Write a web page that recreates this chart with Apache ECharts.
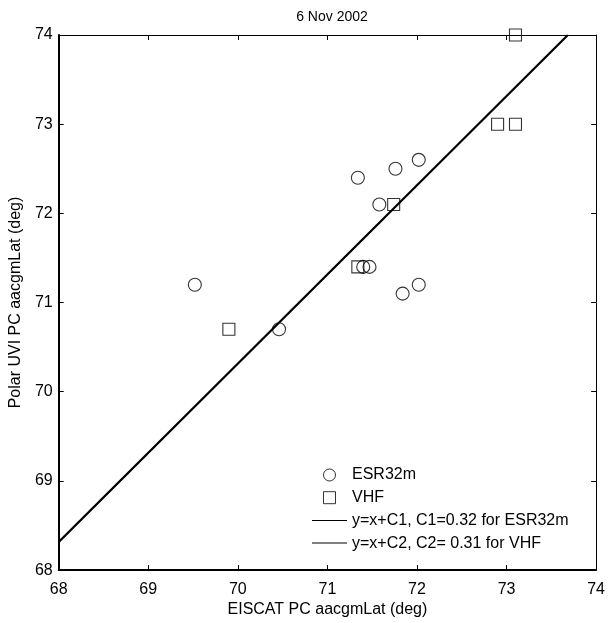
<!DOCTYPE html>
<html>
<head>
<meta charset="utf-8">
<script src="https://cdn.jsdelivr.net/npm/echarts@6/dist/echarts.min.js"></script>
<style>
html,body{margin:0;padding:0;background:#fff;}
#chart{width:608px;height:623px;}
</style>
</head>
<body>
<div id="chart"></div>
<script>
// Data
var titleText = '6 Nov 2002';
var xAxisTitle = 'EISCAT PC aacgmLat (deg)';
var yAxisTitle = 'Polar UVI PC aacgmLat (deg)';
var axisMin = 68, axisMax = 74, axisStep = 1;

var esrName = 'ESR32m';
var esrX = [69.52, 70.46, 71.34, 71.58, 71.76, 72.02, 71.40, 71.47, 71.84, 72.02];
var esrY = [71.20, 70.70, 72.40, 72.10, 72.50, 72.60, 71.40, 71.40, 71.10, 71.20];

var vhfName = 'VHF';
var vhfX = [69.90, 71.34, 71.74, 72.90, 73.10, 73.10];
var vhfY = [70.70, 71.40, 72.10, 73.00, 73.00, 74.00];

var fit1Name = 'y=x+C1, C1=0.32 for ESR32m';
var fit1X = [68.00, 73.68];
var fit1Y = [68.32, 74.00];

var fit2Name = 'y=x+C2, C2= 0.31 for VHF';
var fit2X = [68.00, 73.69];
var fit2Y = [68.31, 74.00];

function pairs(xs, ys){ return xs.map(function(x,i){ return [x, ys[i]]; }); }

var FONT = 'Liberation Sans, Arial, Helvetica, sans-serif';
var chart = echarts.init(document.getElementById('chart'), null, {renderer:'canvas'});

function axisBase(extra){
  var a = {
    type:'value', min:axisMin, max:axisMax, interval:axisStep,
    splitLine:{show:false},
    axisLine:{show:true, onZero:false, lineStyle:{color:'#000', width:2}},
    axisTick:{show:true, inside:true, length:5, lineStyle:{color:'#000', width:1}},
    axisLabel:{show:true, color:'#000', fontFamily:FONT, fontSize:16}
  };
  for (var k in extra) a[k] = extra[k];
  return a;
}

var lineIcon = 'path://M0,0L35,0L35,1L0,1Z';
var squareIcon = 'path://M0,0L10,0L10,10L0,10Z';

var option = {
  animation:false,
  backgroundColor:'#fff',
  title:{
    text:titleText, left:327, top:5, textAlign:'center',
    textStyle:{fontFamily:FONT, fontSize:14, fontWeight:'normal', color:'#000'}
  },
  grid:{left:54, right:9, top:35, bottom:44, containLabel:false},
  xAxis:[
    axisBase({position:'bottom', name:xAxisTitle, nameLocation:'middle', nameGap:26,
      nameTextStyle:{fontFamily:FONT, fontSize:16, color:'#000'},
      axisLabel:{show:true, color:'#000', fontFamily:FONT, fontSize:16, margin:11}}),
    axisBase({position:'top', axisLabel:{show:false},
      axisLine:{show:true, onZero:false, lineStyle:{color:'#000', width:1}}})
  ],
  yAxis:[
    axisBase({position:'left', name:yAxisTitle, nameLocation:'middle', nameGap:32, nameRotate:90,
      nameTextStyle:{fontFamily:FONT, fontSize:16, color:'#000'},
      axisLabel:{show:true, color:'#000', fontFamily:FONT, fontSize:16, margin:6}}),
    axisBase({position:'right', axisLabel:{show:false},
      axisLine:{show:true, onZero:false, lineStyle:{color:'#000', width:1}}})
  ],
  legend:{
    orient:'vertical', left:312, top:467, padding:0,
    itemWidth:35, itemHeight:12, itemGap:6.7,
    textStyle:{fontFamily:FONT, fontSize:16, color:'#000', lineHeight:16},
    data:[
      {name:esrName, icon:'circle', itemStyle:{borderWidth:1}},
      {name:vhfName, icon:squareIcon, itemStyle:{borderWidth:1}},
      {name:fit1Name, icon:lineIcon, itemStyle:{color:'#000', borderWidth:0}},
      {name:fit2Name, icon:lineIcon, itemStyle:{color:'#000', borderWidth:0}}
    ],
    symbolKeepAspect:true,
    selectedMode:false
  },
  series:[
    {
      name:fit1Name, type:'line', xAxisIndex:0, yAxisIndex:0,
      data:pairs(fit1X, fit1Y), symbol:'none', showSymbol:false,
      lineStyle:{color:'#000', width:1.6}, itemStyle:{color:'#000'}, z:3
    },
    {
      name:fit2Name, type:'line', xAxisIndex:0, yAxisIndex:0,
      data:pairs(fit2X, fit2Y), symbol:'none', showSymbol:false,
      lineStyle:{color:'#000', width:1.6}, itemStyle:{color:'#000'}, z:3
    },
    {
      name:vhfName, type:'scatter', xAxisIndex:0, yAxisIndex:0,
      data:pairs(vhfX, vhfY), symbol:'rect', symbolSize:12,
      itemStyle:{color:'rgba(0,0,0,0)', borderColor:'#000', borderWidth:1.1}, z:4
    },
    {
      name:esrName, type:'scatter', xAxisIndex:0, yAxisIndex:0,
      data:pairs(esrX, esrY), symbol:'circle', symbolSize:13,
      itemStyle:{color:'rgba(0,0,0,0)', borderColor:'#000', borderWidth:1.1}, z:4
    }
  ]
};
chart.setOption(option);
</script>
</body>
</html>
